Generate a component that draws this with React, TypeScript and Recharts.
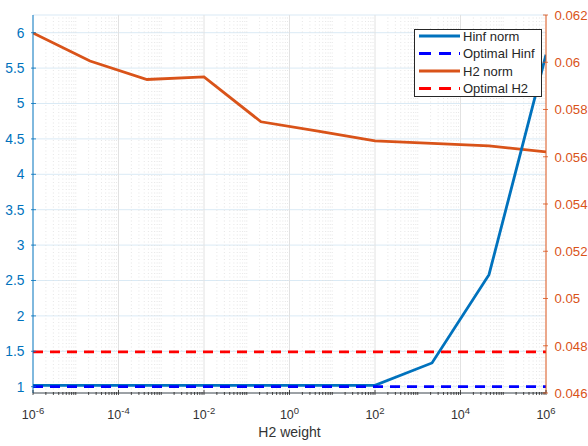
import React from "react";
import { LineChart, Line, XAxis, YAxis, CartesianGrid, ReferenceLine, Legend, Label } from "recharts";

// ---- data ----
const weights = [1e-6, 2.154e-5, 4.642e-4, 1e-2, 0.2154, 4.642, 100, 2154, 46416, 1e6];
const hinfNorm = [1.02, 1.02, 1.02, 1.02, 1.02, 1.02, 1.02, 1.335, 2.582, 5.689];
const optimalHinf = [1.0, 1.0, 1.0, 1.0, 1.0, 1.0, 1.0, 1.0, 1.0, 1.0];
const h2Norm = [0.06124, 0.06005, 0.05927, 0.05938, 0.05748, 0.05708, 0.05667, 0.05657, 0.05646, 0.05621];
const optimalH2 = [0.04774, 0.04774, 0.04774, 0.04774, 0.04774, 0.04774, 0.04774, 0.04774, 0.04774, 0.04774];

const xMajorTicks = [1e-6, 1e-4, 1e-2, 1, 1e2, 1e4, 1e6];
const leftTicks = [1, 1.5, 2, 2.5, 3, 3.5, 4, 4.5, 5, 5.5, 6];
const rightTicks = [0.046, 0.048, 0.05, 0.052, 0.054, 0.056, 0.058, 0.06, 0.062];
const seriesNames = ["Hinf norm", "Optimal Hinf", "H2 norm", "Optimal H2"];
const xLabel = "H2 weight";

// ---- styling ----
const BLUE = "#0072BD";
const ORANGE = "#D95319";
const DASH_BLUE = "#0000FF";
const DASH_RED = "#FF0000";
const AXIS = "#262626";
const FONT = "'Liberation Sans', Arial, Helvetica, sans-serif";

const seriesStyles = [
  { key: "hinf", color: BLUE, dash: undefined as string | undefined, axis: "left" },
  { key: "optHinf", color: DASH_BLUE, dash: "10 7", axis: "left" },
  { key: "h2", color: ORANGE, dash: undefined as string | undefined, axis: "right" },
  { key: "optH2", color: DASH_RED, dash: "10 7", axis: "right" },
];

const data = weights.map((w, i) => ({
  w,
  hinf: hinfNorm[i],
  optHinf: optimalHinf[i],
  h2: h2Norm[i],
  optH2: optimalH2[i],
}));

// log-axis minor positions (scaffolding for ticks / grid)
const xMinorTicks: number[] = [];
for (let k = -6; k < 6; k++) {
  for (let m = 1; m <= 9; m++) {
    const v = m * Math.pow(10, k);
    if (m === 1 && k % 2 === 0) continue;
    xMinorTicks.push(v);
  }
}
const allXTicks = [...xMajorTicks, ...xMinorTicks].sort((a, b) => a - b);

const isMajor = (v: number) => xMajorTicks.some((t) => Math.abs(Math.log10(t) - Math.log10(v)) < 1e-9);

const BottomTick = (props: any) => {
  const { x, y, payload } = props;
  const v = payload.value;
  const major = isMajor(v);
  const exp = Math.round(Math.log10(v));
  return (
    <g>
      <line x1={x} x2={x} y1={y} y2={y - (major ? 5 : 3)} stroke={AXIS} strokeWidth={0.8} />
      {major && (
        <text x={x} y={y + 23.7} textAnchor="middle" fill="#333" fontSize={12.5} fontFamily={FONT}>
          10
          <tspan dy={-5} fontSize={9.5}>{String(exp)}</tspan>
        </text>
      )}
    </g>
  );
};

const TopTick = (props: any) => {
  const { x, y, payload } = props;
  const major = isMajor(payload.value);
  return <line x1={x} x2={x} y1={y} y2={y + (major ? 5 : 3)} stroke={AXIS} strokeWidth={0.8} />;
};

const LeftTick = (props: any) => {
  const { x, y, payload } = props;
  return (
    <g>
      <line x1={x} x2={x + 5} y1={y} y2={y} stroke={BLUE} strokeWidth={0.8} />
      <text x={x - 6.5} y={y} dy="0.36em" textAnchor="end" fill={BLUE} fontSize={13.8} fontFamily={FONT}>
        {String(payload.value)}
      </text>
    </g>
  );
};

const RightTick = (props: any) => {
  const { x, y, payload } = props;
  return (
    <g>
      <line x1={x} x2={x - 5} y1={y} y2={y} stroke={ORANGE} strokeWidth={0.8} />
      <text x={x + 6.5} y={y} dy="0.36em" textAnchor="start" fill={ORANGE} fontSize={13.2} fontFamily={FONT}>
        {String(payload.value)}
      </text>
    </g>
  );
};

const LegendBox = () => (
  <svg width={128} height={68} style={{ display: "block" }}>
    <rect x={0.5} y={0.5} width={127} height={67} fill="#fff" stroke={AXIS} strokeWidth={1} />
    {seriesNames.map((name, i) => {
      const cy = 7 + i * 17.5;
      const s = seriesStyles[i];
      return (
        <g key={name}>
          <line x1={5} x2={46} y1={cy} y2={cy} stroke={s.color} strokeWidth={2.8} strokeDasharray={s.dash ? "12 8" : undefined} />
          <text x={49} y={cy} dy="0.36em" fontSize={13} fill="#262626" fontFamily={FONT}>
            {name}
          </text>
        </g>
      );
    })}
  </svg>
);

export default function App() {
  return (
    <div style={{ position: "absolute", left: 0, top: 0, width: 588, height: 446, background: "#fff" }}>
      <LineChart width={588} height={446} data={data} margin={{ top: 15, right: 0, left: 0, bottom: 0 }}>
        <CartesianGrid xAxisId="b" yAxisId="left" vertical={false} stroke={BLUE} strokeOpacity={0.15} />
        {xMinorTicks.map((v) => (
          <ReferenceLine key={"mn" + v} x={v} xAxisId="b" yAxisId="left" stroke="#e0e0e0" strokeWidth={0.8} strokeDasharray="1 2.5" />
        ))}
        {xMajorTicks.slice(1, -1).map((v) => (
          <ReferenceLine key={"mj" + v} x={v} xAxisId="b" yAxisId="left" stroke="#e2e2e2" strokeWidth={1} />
        ))}
        <XAxis
          xAxisId="b"
          dataKey="w"
          type="number"
          scale="log"
          domain={[1e-6, 1e6]}
          ticks={allXTicks}
          interval={0}
          allowDataOverflow
          height={53}
          tickSize={0}
          tickLine={false}
          tick={<BottomTick />}
          axisLine={{ stroke: AXIS, strokeWidth: 0.8 }}
        >
          <Label value={xLabel} position="insideBottom" offset={9} fill="#333" fontSize={14} fontFamily={FONT} />
        </XAxis>
        <XAxis
          xAxisId="t"
          orientation="top"
          dataKey="w"
          type="number"
          scale="log"
          domain={[1e-6, 1e6]}
          ticks={allXTicks}
          interval={0}
          allowDataOverflow
          height={0}
          tickSize={0}
          tickLine={false}
          tick={<TopTick />}
          axisLine={{ stroke: AXIS, strokeWidth: 0.8 }}
        />
        <YAxis
          yAxisId="left"
          width={33}
          type="number"
          domain={[0.911, 6.25]}
          ticks={leftTicks}
          interval={0}
          allowDataOverflow
          tickSize={0}
          tickLine={false}
          tick={<LeftTick />}
          axisLine={{ stroke: BLUE, strokeWidth: 1 }}
        />
        <YAxis
          yAxisId="right"
          orientation="right"
          width={42}
          type="number"
          domain={[0.046, 0.062]}
          ticks={rightTicks}
          interval={0}
          allowDataOverflow
          tickSize={0}
          tickLine={false}
          tick={<RightTick />}
          axisLine={{ stroke: ORANGE, strokeWidth: 1 }}
        />
        <Line xAxisId="b" yAxisId="right" dataKey="h2" name={seriesNames[2]} stroke={ORANGE} strokeWidth={2.8} dot={false} activeDot={false} isAnimationActive={false} />
        <Line xAxisId="b" yAxisId="right" dataKey="optH2" name={seriesNames[3]} stroke={DASH_RED} strokeWidth={2.8} strokeDasharray="10 7" dot={false} activeDot={false} isAnimationActive={false} />
        <Line xAxisId="b" yAxisId="left" dataKey="hinf" name={seriesNames[0]} stroke={BLUE} strokeWidth={2.8} dot={false} activeDot={false} isAnimationActive={false} />
        <Line xAxisId="b" yAxisId="left" dataKey="optHinf" name={seriesNames[1]} stroke={DASH_BLUE} strokeWidth={2.8} strokeDasharray="10 7" dot={false} activeDot={false} isAnimationActive={false} />
        <Legend
          layout="horizontal"
          verticalAlign="middle"
          align="center"
          content={() => <LegendBox />}
          wrapperStyle={{ position: "absolute", left: 414, top: 29, width: 128, height: 68 }}
        />
      </LineChart>
    </div>
  );
}
